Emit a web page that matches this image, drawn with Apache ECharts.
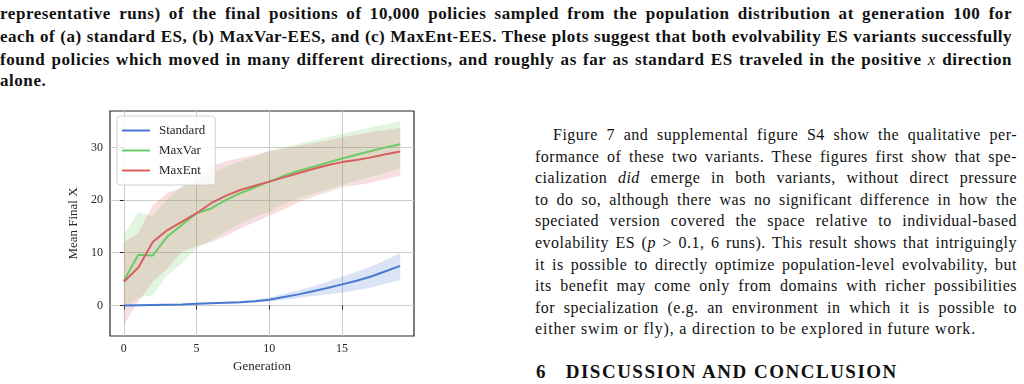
<!DOCTYPE html>
<html>
<head>
<meta charset="utf-8">
<script src="https://cdn.jsdelivr.net/npm/echarts@6/dist/echarts.min.js"></script>
<style>
  html, body { margin: 0; padding: 0; background: #fff; }
  body { width: 1024px; height: 384px; position: relative; overflow: hidden; font-family: "Liberation Serif", serif; color: #111; }
  .cap { position: absolute; left: 0; width: 1012px; font-weight: bold; font-size: 17px; letter-spacing: 0.55px; line-height: 22px; height: 22px; text-align: justify; text-align-last: justify; white-space: nowrap; }
  .cap.last { text-align-last: left; }
  .par { position: absolute; left: 535px; width: 482px; font-size: 16px; letter-spacing: 0.5px; line-height: 22px; height: 22px; text-align: justify; text-align-last: justify; white-space: nowrap; }
  .par.first { left: 553px; width: 464px; }
  .par.last { text-align-last: left; letter-spacing: 0.8px; }
  .head { position: absolute; left: 536px; top: 360px; font-weight: bold; font-size: 19px; letter-spacing: 1.5px; line-height: 24px; white-space: pre; }
  #chart { position: absolute; left: 0; top: 100px; width: 440px; height: 284px; }
</style>
</head>
<body>
<div class="cap" style="top:3px">representative runs) of the final positions of 10,000 policies sampled from the population distribution at generation 100 for</div>
<div class="cap" style="top:26px; letter-spacing:0.45px">each of (a) standard ES, (b) MaxVar-EES, and (c) MaxEnt-EES. These plots suggest that both evolvability ES variants successfully</div>
<div class="cap" style="top:49px">found policies which moved in many different directions, and roughly as far as standard ES traveled in the positive <i style="font-weight:normal">x</i> direction</div>
<div class="cap last" style="top:70px">alone.</div>

<div class="par first" style="top:124px">Figure 7 and supplemental figure S4 show the qualitative per-</div>
<div class="par" style="top:146px">formance of these two variants. These figures first show that spe-</div>
<div class="par" style="top:167px">cialization <i>did</i> emerge in both variants, without direct pressure</div>
<div class="par" style="top:189px">to do so, although there was no significant difference in how the</div>
<div class="par" style="top:210px">speciated version covered the space relative to individual-based</div>
<div class="par" style="top:232px">evolability ES (<i>p</i> &gt; 0.1, 6 runs). This result shows that intriguingly</div>
<div class="par" style="top:254px">it is possible to directly optimize population-level evolvability, but</div>
<div class="par" style="top:275px">its benefit may come only from domains with richer possibilities</div>
<div class="par" style="top:297px">for specialization (e.g. an environment in which it is possible to</div>
<div class="par last" style="top:318px">either swim or fly), a direction to be explored in future work.</div>
<div class="head">6   DISCUSSION AND CONCLUSION</div>

<div id="chart"></div>
<script>
// generation index
var generations = [0, 1, 2, 3, 4, 5, 6, 7, 8, 9, 10, 11, 12, 13, 14, 15, 16, 17, 18, 19];

var standardMean = [0.0, 0.05, 0.1, 0.15, 0.2, 0.3, 0.4, 0.5, 0.6, 0.8, 1.1, 1.6, 2.1, 2.7, 3.3, 4.0, 4.7, 5.5, 6.5, 7.5];
var standardLow  = [-0.1, -0.05, 0.0, 0.05, 0.1, 0.15, 0.25, 0.3, 0.4, 0.55, 0.75, 1.1, 1.4, 1.8, 2.1, 2.4, 2.9, 3.4, 4.1, 4.8];
var standardHigh = [0.1, 0.15, 0.2, 0.25, 0.3, 0.45, 0.55, 0.7, 0.85, 1.1, 1.5, 2.2, 2.9, 3.6, 4.5, 5.5, 6.4, 7.4, 8.6, 9.9];

var maxVarMean = [4.7, 9.6, 9.5, 13.1, 15.3, 17.5, 18.4, 20.0, 21.3, 22.4, 23.5, 24.6, 25.5, 26.3, 27.1, 27.9, 28.6, 29.3, 30.0, 30.6];
var maxVarLow  = [-0.5, 1.4, 2.0, 5.8, 8.0, 11.0, 12.3, 14.0, 15.5, 16.8, 17.8, 19.2, 20.4, 21.2, 22.0, 22.9, 23.6, 24.4, 25.2, 26.0];
var maxVarHigh = [13.4, 17.7, 17.0, 20.2, 22.6, 23.6, 25.0, 26.3, 27.3, 28.2, 29.4, 30.0, 30.7, 31.3, 31.9, 32.6, 33.2, 33.8, 34.4, 35.0];

var maxEntMean = [4.5, 7.2, 12.1, 14.3, 15.9, 17.5, 19.4, 20.8, 21.9, 22.7, 23.5, 24.3, 25.1, 25.9, 26.6, 27.2, 27.6, 28.1, 28.7, 29.2];
var maxEntLow  = [-3.7, 0.8, 4.5, 7.0, 10.2, 11.2, 12.0, 13.2, 14.6, 15.8, 17.0, 18.2, 19.6, 20.6, 21.5, 22.5, 22.8, 23.3, 24.0, 24.6];
var maxEntHigh = [12.0, 13.8, 19.0, 21.4, 22.4, 24.0, 26.4, 27.3, 28.0, 28.6, 29.2, 29.8, 30.3, 30.8, 31.3, 31.9, 32.4, 32.9, 33.3, 33.7];

var xTicks = [0, 5, 10, 15];
var yTicks = [0, 10, 20, 30];

var fontFam = '"Liberation Serif", "DejaVu Serif", serif';

function pairs(vals) {
	return generations.map(function (g, i) { return [g, vals[i]]; });
}

function lineSeries(name, vals, color) {
	return {
		name: name,
		type: 'line',
		data: pairs(vals),
		showSymbol: false,
		symbol: 'none',
		z: 4,
		lineStyle: { color: color, width: 2 },
		itemStyle: { color: color }
	};
}

// shaded band drawn as one polygon, corners mapped through the axes
function bandSeries(key, low, high, fill) {
	return {
		name: key + '-band',
		type: 'custom',
		z: 1,
		silent: true,
		data: generations.map(function (g, i) { return [g, low[i], high[i]]; }),
		encode: { x: 0, y: [ 1, 2 ] },
		renderItem: function (params, api) {
			if (params.dataIndexInside !== 0) return null;
			var n = params.dataInsideLength;
			var top = [], bottom = [];
			for (var i = 0; i < n; i++) {
				var x = api.value(0, i);
				bottom.push(api.coord([ x, api.value(1, i) ]));
				top.push(api.coord([ x, api.value(2, i) ]));
			}
			return {
				type: 'polygon',
				shape: { points: bottom.concat(top.reverse()) },
				style: { fill: fill }
			};
		}
	};
}

var chart = echarts.init(document.getElementById('chart'));
chart.setOption({
	animation: false,
	grid: {
		left: 110, top: 11, width: 304, height: 225,
		show: true, borderColor: '#262626', borderWidth: 1.2,
		containLabel: false
	},
	legend: {
		data: [ 'Standard', 'MaxVar', 'MaxEnt' ],
		orient: 'vertical',
		left: 117, top: 16,
		icon: 'rect',
		itemWidth: 28, itemHeight: 2,
		itemGap: 7,
		padding: [ 8, 10, 8, 5 ],
		backgroundColor: 'rgba(255,255,255,0.85)',
		borderColor: '#d0d0d0', borderWidth: 1, borderRadius: 3,
		textStyle: { fontFamily: fontFam, fontSize: 13, color: '#262626', padding: [ 0, 0, 0, 4 ] }
	},
	xAxis: {
		type: 'value',
		min: -0.95, max: 19.95,
		name: 'Generation',
		nameLocation: 'middle',
		nameGap: 24,
		nameTextStyle: { fontFamily: fontFam, fontSize: 13, color: '#262626' },
		axisLine: { show: false },
		axisTick: { show: true, length: 4, customValues: xTicks, lineStyle: { color: '#262626' } },
		axisLabel: { customValues: xTicks, margin: 7, fontFamily: fontFam, fontSize: 12, color: '#262626' },
		splitLine: { show: true, lineStyle: { color: '#cccccc', width: 1 } }
	},
	yAxis: {
		type: 'value',
		min: -5.8, max: 36.9,
		name: 'Mean Final X',
		nameLocation: 'middle',
		nameGap: 25,
		nameTextStyle: { fontFamily: fontFam, fontSize: 13, color: '#262626' },
		axisLine: { show: false },
		axisTick: { show: true, length: 4, customValues: yTicks, lineStyle: { color: '#262626' } },
		axisLabel: { customValues: yTicks, margin: 7, fontFamily: fontFam, fontSize: 12, color: '#262626' },
		splitLine: { show: true, lineStyle: { color: '#cccccc', width: 1 } }
	},
	series: [
		bandSeries('std', standardLow, standardHigh, 'rgba(72,120,208,0.2)'),
		bandSeries('var', maxVarLow, maxVarHigh, 'rgba(106,204,100,0.2)'),
		bandSeries('ent', maxEntLow, maxEntHigh, 'rgba(214,95,95,0.2)'),
		lineSeries('Standard', standardMean, '#4878d0'),
		lineSeries('MaxVar', maxVarMean, '#6acc64'),
		lineSeries('MaxEnt', maxEntMean, '#d65f5f')
	]
});
</script>
</body>
</html>
